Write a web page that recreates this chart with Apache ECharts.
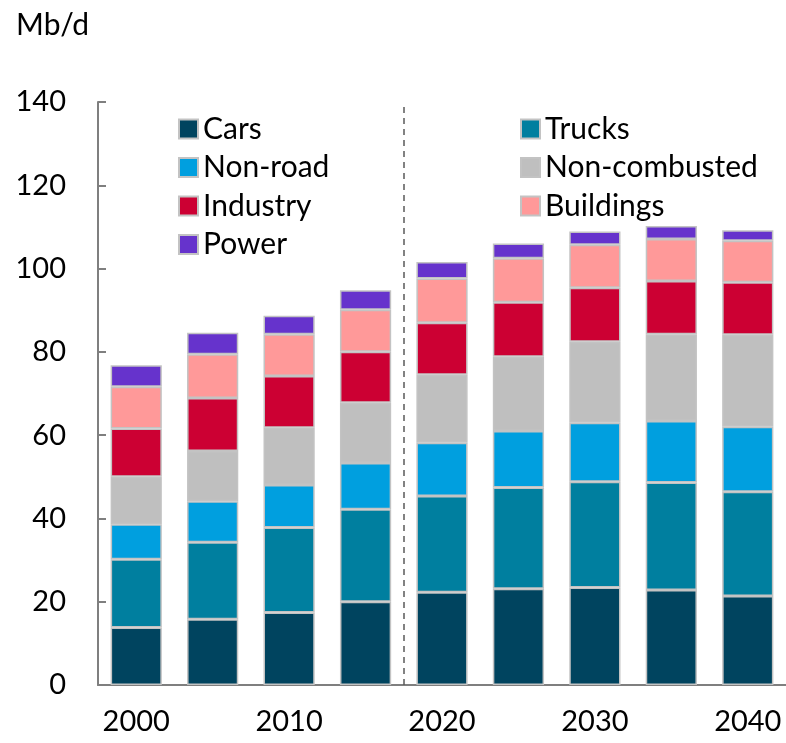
<!DOCTYPE html>
<html>
<head>
<meta charset="utf-8">
<script src="https://cdn.jsdelivr.net/npm/echarts@6/dist/echarts.min.js"></script>
<style>
  html, body { margin: 0; padding: 0; background: #fff; }
  #chart { width: 786px; height: 743px; }
</style>
</head>
<body>
<div id="chart"></div>
<script>
// categories (every 5 years, only decades labelled)
var years = ['2000', '2005', '2010', '2015', '2020', '2025', '2030', '2035', '2040']
// Mb/d, stacked from the bottom
var cars = [13.8, 15.8, 17.4, 20.0, 22.3, 23.1, 23.4, 22.8, 21.4]
var trucks = [16.4, 18.5, 20.4, 22.2, 23.1, 24.3, 25.4, 25.8, 25.0]
var nonRoad = [8.4, 9.8, 10.2, 11.1, 12.8, 13.6, 14.2, 14.8, 15.6]
var nonCombusted = [11.4, 12.1, 13.8, 14.5, 16.3, 17.8, 19.4, 20.8, 22.1]
var industry = [11.6, 12.7, 12.4, 12.2, 12.5, 13.1, 13.0, 12.8, 12.6]
var buildings = [10.0, 10.5, 10.0, 10.1, 10.6, 10.6, 10.3, 10.1, 10.0]
var power = [5.2, 5.2, 4.5, 4.7, 4.0, 3.5, 3.2, 3.1, 2.5]
// history / projection divider sits after the 4th category
var dividerAt = 4

var font = 'Lato, "Open Sans", sans-serif'

function bar (name, data, color) {
  return {
    name: name,
    type: 'bar',
    stack: 'total',
    barCategoryGap: '33%',
    itemStyle: { color: color, borderColor: '#c3c3c3', borderWidth: 1.5 },
    data: data
  }
}

function legendCol (left, names) {
  return {
    orient: 'vertical',
    left: left,
    top: 109,
    icon: 'rect',
    itemWidth: 19,
    itemHeight: 19,
    itemGap: 8.5,
    textStyle: { fontFamily: font, fontSize: 30, lineHeight: 30, color: '#000' },
    data: names
  }
}

var chart = echarts.init(document.getElementById('chart'))
var option = {
  animation: false,
  title: {
    text: 'Mb/d',
    left: 11,
    top: 5,
    textStyle: { fontFamily: font, fontSize: 30, fontWeight: 'normal', color: '#000' }
  },
  legend: [
    legendCol(173, ['Cars', 'Non-road', 'Industry', 'Power']),
    legendCol(515, ['Trucks', 'Non-combusted', 'Buildings'])
  ],
  grid: { left: 98, right: 0, top: 102, height: 583 },
  xAxis: [
    {
      type: 'category',
      data: years,
      axisLine: { lineStyle: { color: '#7f7f7f', width: 2 } },
      axisTick: { show: false },
      axisLabel: { interval: 1, margin: 22, fontFamily: font, fontSize: 29, color: '#000' }
    },
    {
      type: 'value',
      min: 0,
      max: years.length,
      show: false
    }
  ],
  yAxis: {
    type: 'value',
    min: 0,
    max: 140,
    interval: 20,
    splitLine: { show: false },
    axisLine: { show: true, lineStyle: { color: '#7f7f7f', width: 2 } },
    axisTick: { show: true, inside: true, length: 8, lineStyle: { color: '#7f7f7f', width: 2 } },
    axisLabel: { margin: 32, fontFamily: font, fontSize: 29, color: '#000' }
  },
  series: [
    bar('Cars', cars, '#00445f'),
    bar('Trucks', trucks, '#007f9f'),
    bar('Non-road', nonRoad, '#009fdf'),
    bar('Non-combusted', nonCombusted, '#bfbfbf'),
    bar('Industry', industry, '#cc0033'),
    bar('Buildings', buildings, '#ff9999'),
    bar('Power', power, '#6633cc'),
    {
      name: 'divider',
      type: 'line',
      xAxisIndex: 1,
      data: [],
      markLine: {
        silent: true,
        symbol: 'none',
        label: { show: false },
        lineStyle: { type: [6, 5], color: '#595959', width: 1.5 },
        data: [{ xAxis: dividerAt }]
      }
    }
  ]
}
chart.setOption(option)
</script>
</body>
</html>
